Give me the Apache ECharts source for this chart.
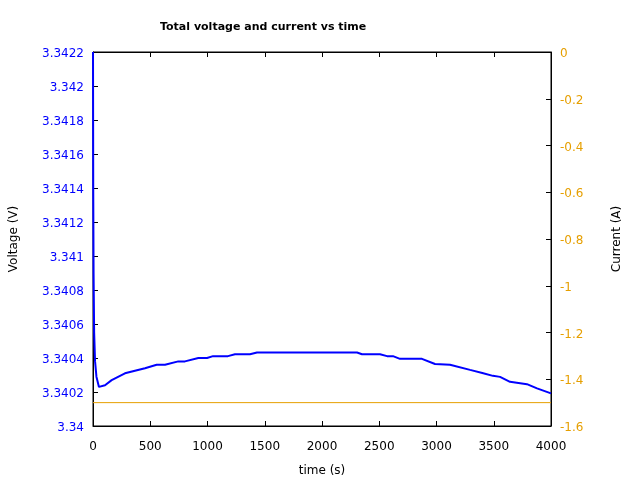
<!DOCTYPE html>
<html><head><meta charset="utf-8">
<script src="https://cdn.jsdelivr.net/npm/echarts@6/dist/echarts.min.js"></script>
<style>html,body{margin:0;padding:0;background:#fff}#c{width:640px;height:480px}</style>
</head><body><div id="c"></div>
<script>
var timeS = [0, 2, 5, 10, 18, 30, 52, 105, 163, 279, 454, 556, 629, 745, 803, 920, 996, 1048, 1179, 1240, 1371, 1432, 2306, 2349, 2507, 2568, 2620, 2681, 2873, 2987, 3118, 3293, 3400, 3493, 3555, 3642, 3790, 3878, 4000];
var voltage = [3.3422, 3.3414, 3.3409, 3.34055, 3.34038, 3.34029, 3.34023, 3.34024, 3.34027, 3.34031, 3.34034, 3.34036, 3.34036, 3.34038, 3.34038, 3.34040, 3.34040, 3.340411, 3.340411, 3.340422, 3.340422, 3.340432, 3.340432, 3.340422, 3.340422, 3.340411, 3.340411, 3.340395, 3.340395, 3.340365, 3.340360, 3.340330, 3.340312, 3.340295, 3.340289, 3.340260, 3.340246, 3.340221, 3.340192];
var currentT = [0, 4000];
var currentA = [-1.5, -1.5];
var xTicks = [0, 4000, 500];
var vTicks = [3.34, 3.3422, 0.0002];
var cTicks = [-1.6, 0, 0.2];

var vData = timeS.map(function(t, i){ return [t, voltage[i]]; });
var cData = currentT.map(function(t, i){ return [t, currentA[i]]; });
var font = 'DejaVu Sans';
var tick = {show: true, inside: true, length: 5, lineStyle: {color: '#000'}};
var line = {show: true, onZero: false, lineStyle: {color: '#000'}};
var chart = echarts.init(document.getElementById('c'), null, {renderer: 'canvas'});
chart.setOption({
  animation: false,
  backgroundColor: '#fff',
  title: {text: 'Total voltage and current vs time', left: 155, top: 17,
    textStyle: {fontFamily: font, fontSize: 11, fontWeight: 'bold', color: '#000'}},
  grid: {left: 93, right: 89, top: 52, bottom: 54, show: true, borderColor: '#000', borderWidth: 1,
    containLabel: false, outerBoundsMode: 'none'},
  xAxis: [{
    type: 'value', min: xTicks[0], max: xTicks[1], interval: xTicks[2],
    name: 'time (s)', nameLocation: 'middle', nameGap: 39,
    nameTextStyle: {fontFamily: font, fontSize: 12, color: '#000'},
    axisLine: line,
    axisTick: tick,
    axisLabel: {fontFamily: font, fontSize: 12, color: '#000', margin: 15,
      formatter: function(v){ return String(v); }},
    splitLine: {show: false}
  }, {
    type: 'value', position: 'top', min: xTicks[0], max: xTicks[1], interval: xTicks[2],
    axisLine: line,
    axisTick: tick,
    axisLabel: {show: false}, splitLine: {show: false}
  }],
  yAxis: [{
    type: 'value', min: vTicks[0], max: vTicks[1], interval: vTicks[2], position: 'left',
    name: 'Voltage (V)', nameLocation: 'middle', nameGap: 73, nameRotate: 90,
    nameTextStyle: {fontFamily: font, fontSize: 12, color: '#000'},
    axisLine: line,
    axisTick: tick,
    axisLabel: {fontFamily: font, fontSize: 12, color: '#0000ff', margin: 9,
      verticalAlign: 'top', lineHeight: 4,
      formatter: function(v){ return String(parseFloat(v.toFixed(4))); }},
    splitLine: {show: false}
  }, {
    type: 'value', min: cTicks[0], max: cTicks[1], interval: cTicks[2], position: 'right',
    name: 'Current (A)', nameLocation: 'middle', nameGap: 60, nameRotate: 90,
    nameTextStyle: {fontFamily: font, fontSize: 12, color: '#000'},
    axisLine: line,
    axisTick: tick,
    axisLabel: {fontFamily: font, fontSize: 12, color: '#e69f00', margin: 9,
      verticalAlign: 'top', lineHeight: 4,
      formatter: function(v){ return String(parseFloat(v.toFixed(1))); }},
    splitLine: {show: false}
  }],
  series: [{
    type: 'line', xAxisIndex: 0, yAxisIndex: 0, data: vData, showSymbol: false,
    lineStyle: {color: '#0000ff', width: 2}, z: 3
  }, {
    type: 'line', xAxisIndex: 0, yAxisIndex: 1, data: cData, showSymbol: false,
    lineStyle: {color: '#e69f00', width: 1}, z: 2
  }]
});
</script></body></html>
